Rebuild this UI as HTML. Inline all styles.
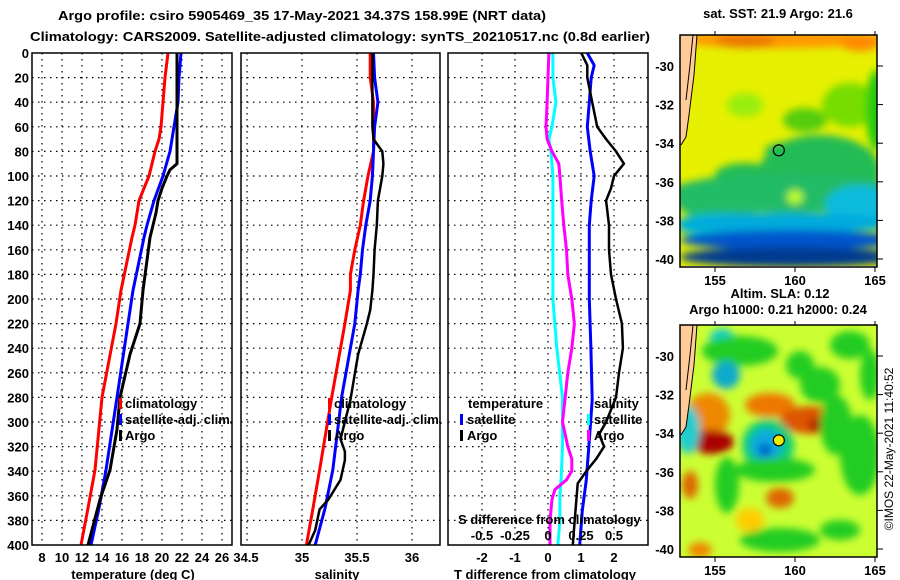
<!DOCTYPE html>
<html><head><meta charset="utf-8"><style>
body{margin:0;background:#fff}
svg{display:block;font-family:"Liberation Sans",sans-serif}
.b{font-weight:bold;font-size:13px}
</style></head><body>
<svg id="c" width="900" height="580" viewBox="0 0 900 580">
<defs>
<filter id="bl1" x="-50%" y="-50%" width="200%" height="200%"><feGaussianBlur stdDeviation="4"/></filter>
<filter id="bl2" x="-50%" y="-50%" width="200%" height="200%"><feGaussianBlur stdDeviation="4"/></filter>
<clipPath id="m1"><rect x="680" y="35" width="197" height="231"/></clipPath>
<clipPath id="m2"><rect x="680" y="325" width="197" height="232"/></clipPath>
</defs>
<text x="302" y="20" text-anchor="middle" class="b" font-size="14" textLength="488" lengthAdjust="spacingAndGlyphs">Argo profile: csiro 5905469_35 17-May-2021 34.37S 158.99E (NRT data)</text>
<text x="30" y="41" class="b" font-size="14" textLength="620" lengthAdjust="spacingAndGlyphs">Climatology: CARS2009. Satellite-adjusted climatology: synTS_20210517.nc (0.8d earlier)</text>
<g id="plots"></g>
<g id="maps"></g>
<text transform="translate(893,449) rotate(-90)" text-anchor="middle" font-size="12">©IMOS 22-May-2021 11:40:52</text>
</svg>
<script>
// depth ticks
const depthTicks=[0,20,40,60,80,100,120,140,160,180,200,220,240,260,280,300,320,340,360,380,400];
// temperature panel
const tTicks=[8,10,12,14,16,18,20,22,24,26];
const tClimD=[0,20,40,60,70,80,100,120,140,150,193,220,280,339,370,400];
const tClim=[20.6,20.3,20.1,19.9,19.7,19.3,18.7,17.7,17.3,17.0,15.9,15.4,14.0,13.3,12.6,11.9];
const tSatD=[0,20,40,60,80,100,120,140,150,193,220,280,339,370,400];
const tSat=[21.9,21.7,21.6,21.2,20.8,20.1,19.2,18.5,18.2,17.1,16.6,15.5,14.4,13.7,12.9];
const tArgoD=[0,40,80,90,95,100,110,120,130,140,150,193,220,245,280,306,339,363,400];
const tArgo=[21.5,21.5,21.5,21.5,20.8,20.5,20.0,19.6,19.4,19.1,18.8,18.1,17.8,16.8,15.8,15.5,14.8,13.8,12.6];
// salinity panel
const sTicks=[34.5,35,35.5,36];
const sClimD=[0,20,40,60,80,100,120,140,160,180,193,220,280,339,370,400];
const sClim=[35.62,35.62,35.65,35.65,35.65,35.60,35.56,35.53,35.48,35.44,35.44,35.39,35.27,35.16,35.10,35.04];
const sSatD=[0,20,40,60,80,100,120,140,160,180,193,220,280,339,370,400];
const sSat=[35.65,35.66,35.69,35.66,35.65,35.64,35.62,35.58,35.55,35.53,35.51,35.48,35.36,35.28,35.21,35.12];
const sArgoD=[0,20,40,60,70,80,90,100,120,140,160,180,193,209,220,245,282,314,324,331,347,363,371,388,400];
const sArgo=[35.64,35.64,35.64,35.64,35.65,35.73,35.74,35.73,35.69,35.68,35.66,35.65,35.64,35.62,35.59,35.51,35.44,35.35,35.39,35.39,35.35,35.24,35.16,35.12,35.06];
// difference panel
const dTTicks=[-2,-1,0,1,2];
const dSTicks=[-0.5,-0.25,0,0.25,0.5];
const dTSatD=[0,10,20,40,60,80,100,120,140,200,240,282,315,347,372,400];
const dTSat=[1.19,1.4,1.31,1.25,1.19,1.28,1.4,1.31,1.25,1.25,1.3,1.34,1.25,1.16,1.04,0.96];
const dTArgoD=[0,10,20,40,60,70,80,90,100,110,120,140,160,180,200,220,240,260,280,300,310,320,330,340,350,360,380,400];
const dTArgo=[1.01,1.19,1.19,1.34,1.49,1.76,2.06,2.3,2.0,1.91,1.76,1.85,1.85,1.91,2.06,2.24,2.27,2.15,2.06,1.76,1.55,1.7,1.46,1.16,0.9,0.87,0.81,0.75];
const dSSatD=[0,20,40,60,70,80,100,200,240,280,320,345,360,380,400];
const dSSat=[0.037,0.037,0.06,0.03,0.007,0.022,0.037,0.037,0.067,0.11,0.11,0.10,0.09,0.09,0.075];
const dSArgoD=[0,20,40,60,70,80,90,100,120,140,160,180,200,220,240,260,280,300,320,330,340,347,355,363,380,400];
const dSArgo=[0.007,0,-0.007,-0.015,-0.007,0.03,0.082,0.09,0.104,0.12,0.14,0.15,0.18,0.2,0.18,0.15,0.13,0.11,0.15,0.18,0.18,0.14,0.052,0.03,0.015,0.015];

const NS='http://www.w3.org/2000/svg';
const G=document.getElementById('plots');
function mk(tag,attrs,parent){const e=document.createElementNS(NS,tag);for(const k in attrs)e.setAttribute(k,attrs[k]);(parent||G).appendChild(e);return e;}
const Y0=53,Y1=545;
function yD(d){return Y0+d*(Y1-Y0)/400;}
function lin(a,b,pa,pb){return v=>pa+(v-a)*(pb-pa)/(b-a);}
const xT=lin(8,26,42,222), xS=lin(35,36,302,412), xDT=lin(0,2,548,614), xDS=lin(0,0.5,548,614);

function panel(x0,x1,name){
  const g=mk('g',{});
  
  
  for(const d of depthTicks){
    if(d>0&&d<400){const l=mk('line',{x1:x0,x2:x1,y1:yD(d),y2:yD(d),stroke:'#000','stroke-dasharray':'1.5,4.5','stroke-width':1.2},g);
    
    }
  }
  return g;
}
function vgrid(g,xs,x0,x1){for(const x of xs){if(x>x0+2&&x<x1-2){const l=mk('line',{x1:x,x2:x,y1:Y0,y2:Y1,stroke:'#000','stroke-dasharray':'1.5,4.5','stroke-width':1.2},g);

}}}
function box(g,x0,x1){const r=mk('rect',{x:x0,y:Y0,width:x1-x0,height:Y1-Y0,fill:'none',stroke:'#000','stroke-width':1.5},g);

}
function series(g,ds,vs,fx,col,w,name){
  const pts=ds.map((d,i)=>fx(vs[i]).toFixed(1)+','+yD(d).toFixed(1)).join(' ');
  const p=mk('polyline',{points:pts,fill:'none',stroke:col,'stroke-width':w,'stroke-linejoin':'round'},g);
  
  
}
function txt(g,x,y,s,anchor,name,size){const t=mk('text',{x:x,y:y,'text-anchor':anchor||'start',class:'b','font-size':size||13},g);t.textContent=s;

return t;}
function legMark(g,x,y,col,name){const r=mk('rect',{x:x,y:y-10,width:3,height:11,fill:col},g);

}

// depth labels
for(const d of depthTicks){txt(G,29,yD(d)+5,String(d),'end','depth-tick-label');}

// Panel 1
let g1=panel(32,232,'temperature-panel');
vgrid(g1,tTicks.map(xT),32,232);
series(g1,tClimD,tClim,xT,'#f00',3,'temp-climatology-line');
series(g1,tSatD,tSat,xT,'#00f',3,'temp-satellite-line');
series(g1,tArgoD,tArgo,xT,'#000',3,'temp-argo-line');
box(g1,32,232);
tTicks.forEach(t=>txt(g1,xT(t),562,String(t),'middle','temp-tick-label'));
txt(g1,133,579,'temperature (deg C)','middle','temp-axis-title');
legMark(g1,119,408,'#f00','legend-clim-marker');txt(g1,125,408,'climatology','start','legend-climatology');
legMark(g1,119,424,'#00f','legend-sat-marker');txt(g1,125,424,'satellite-adj. clim.','start','legend-satellite');
legMark(g1,119,440,'#000','legend-argo-marker');txt(g1,125,440,'Argo','start','legend-argo');

// Panel 2
let g2=panel(241,440,'salinity-panel');
vgrid(g2,sTicks.map(xS),241,440);
series(g2,sClimD,sClim,xS,'#f00',3,'sal-climatology-line');
series(g2,sSatD,sSat,xS,'#00f',3,'sal-satellite-line');
series(g2,sArgoD,sArgo,xS,'#000',2.5,'sal-argo-line');
box(g2,241,440);
sTicks.forEach(s=>txt(g2,s===34.5?246:xS(s),562,String(s),'middle','sal-tick-label'));
txt(g2,337,579,'salinity','middle','sal-axis-title');
legMark(g2,328,408,'#f00','legend-clim-marker');txt(g2,334,408,'climatology','start','legend-climatology');
legMark(g2,328,424,'#00f','legend-sat-marker');txt(g2,334,424,'satellite-adj. clim.','start','legend-satellite');
legMark(g2,328,440,'#000','legend-argo-marker');txt(g2,334,440,'Argo','start','legend-argo');

// Panel 3
let g3=panel(448,648,'difference-panel');
vgrid(g3,dTTicks.map(xDT),448,648);
series(g3,dSSatD,dSSat,xDS,'#0ff',3,'sdiff-satellite-line');
series(g3,dSArgoD,dSArgo,xDS,'#f0f',3,'sdiff-argo-line');
series(g3,dTSatD,dTSat,xDT,'#00f',3,'tdiff-satellite-line');
series(g3,dTArgoD,dTArgo,xDT,'#000',2.5,'tdiff-argo-line');
box(g3,448,648);
dTTicks.forEach(t=>txt(g3,xDT(t),562,String(t),'middle','tdiff-tick-label'));
txt(g3,545,579,'T difference from climatology','middle','tdiff-axis-title');
dSTicks.forEach(s=>txt(g3,xDS(s),540,String(s),'middle','sdiff-tick-label'));
txt(g3,458,524,'S difference from climatology','start','sdiff-axis-title');
txt(g3,468,408,'temperature','start','legend-temperature-header');
legMark(g3,460,424,'#00f','legend-tsat-marker');txt(g3,467,424,'satellite','start','legend-tsat');
legMark(g3,460,440,'#000','legend-targo-marker');txt(g3,467,440,'Argo','start','legend-targo');
txt(g3,594,408,'salinity','start','legend-salinity-header');
legMark(g3,587,424,'#0ff','legend-ssat-marker');txt(g3,594,424,'satellite','start','legend-ssat');
legMark(g3,587,440,'#f0f','legend-sargo-marker');txt(g3,594,440,'Argo','start','legend-sargo');

// Maps
const M=document.getElementById('maps');
const lonTicks=[155,160,165];
const latTicks=[-30,-32,-34,-36,-38,-40];
const xLon=lin(155,165,715,875);
function map(top,clip,blobs,bg,name,title,titleY,filt){
  const g=mk('g',{},M);
  
  
  const yLat=lin(-30,-40,top+31,top+224);
  const inner=mk('g',{'clip-path':'url(#'+clip+')'},g);
  mk('rect',{x:680,y:top,width:197,height:232,fill:bg},inner);
  const bg2=mk('g',{filter:'url(#'+filt+')'},inner);
  for(const b of blobs){mk('ellipse',{cx:b[0],cy:top+b[1],rx:b[2],ry:b[3],fill:b[4]},bg2);}
  const land=mk('path',{d:`M680,${top} L697,${top} L694,${top+40} L689,${top+80} L686,${top+102} L680,${top+110} Z`,fill:'#fc9'},inner);
  
  
  mk('path',{d:`M697,${top} L694,${top+40} L689,${top+80} L686,${top+102} L681,${top+110}`,fill:'none',stroke:'#000','stroke-width':1},inner);
  mk('path',{d:`M693,${top} L690,${top+30} L686,${top+65}`,fill:'none',stroke:'#000','stroke-width':1},inner);
  const r=mk('rect',{x:680,y:top,width:197,height:232,fill:'none',stroke:'#000','stroke-width':1.5},g);
  
  
  const c=mk('circle',{cx:xLon(158.99),cy:yLat(-34.37),r:5.5,fill:top>300?'#ee0':'none',stroke:'#000','stroke-width':1.2},g);
  
  
  latTicks.forEach(l=>{mk('line',{x1:877,x2:883,y1:yLat(l),y2:yLat(l),stroke:'#000'},g);
    txt(g,674,yLat(l)+5,String(l),'end','lat-tick-label');});
  lonTicks.forEach(l=>{mk('line',{x1:xLon(l),x2:xLon(l),y1:top+232,y2:top+237,stroke:'#000'},g);
    mk('line',{x1:xLon(l),x2:xLon(l),y1:top-4,y2:top,stroke:'#000'},g);
    txt(g,xLon(l),top+250,String(l),'middle','lon-tick-label');});
  txt(g,778,titleY,title,'middle','map-title',12);
}
const sstBlobs=[
 [780,4,110,9,'#f90'],[745,6,30,7,'#e70'],[860,8,20,8,'#f80'],
 [850,70,28,22,'#7d0'],[876,75,10,40,'#2c1'],[805,85,22,12,'#5c1'],[745,70,18,12,'#9e1'],
 [820,135,60,35,'#2b5'],[745,140,30,12,'#2b5'],[790,115,25,8,'#2b5'],[790,158,120,20,'#2b6'],
 [795,162,8,7,'#bf2'],[720,165,45,20,'#2b6'],
 [860,170,35,20,'#1bd'],[720,190,45,12,'#1bc'],[790,188,110,10,'#0ad'],
 [790,205,110,10,'#05c'],[790,222,110,10,'#003a90']];
map(35,'m1',sstBlobs,'#e6f000','sst-map','sat. SST: 21.9 Argo: 21.6',18,'bl1');
txt(M,780,298,'Altim. SLA: 0.12','middle','sla-label',12);
const slaBlobs=[
 [722,12,12,8,'#1cc'],[740,26,38,15,'#2c2'],[726,50,14,14,'#1ac'],[800,40,14,14,'#2c2'],
 [850,20,20,14,'#2c2'],[870,50,10,25,'#2c2'],[820,60,20,18,'#2c2'],
 [770,80,25,12,'#e70'],[810,95,30,14,'#d50'],[823,100,14,8,'#a00'],
 [708,90,22,22,'#e80'],[712,117,22,12,'#a00'],[685,105,8,16,'#03a'],[688,105,12,24,'#2cc'],
 [768,120,26,26,'#1c7'],[766,120,16,16,'#1ad'],[765,125,7,7,'#06c'],
 [775,145,40,12,'#2c2'],[836,100,16,30,'#2c2'],[860,130,20,40,'#2c2'],
 [780,173,14,10,'#d60'],[690,160,8,14,'#d60'],[727,160,12,28,'#2c2'],
 [780,215,40,12,'#2c2'],[840,205,20,10,'#2c2'],[700,225,12,8,'#e80'],[750,195,14,12,'#fc0']];
map(325,'m2',slaBlobs,'#cf3','sla-map','Argo h1000: 0.21 h2000: 0.24',314,'bl2');
</script>
</body></html>
